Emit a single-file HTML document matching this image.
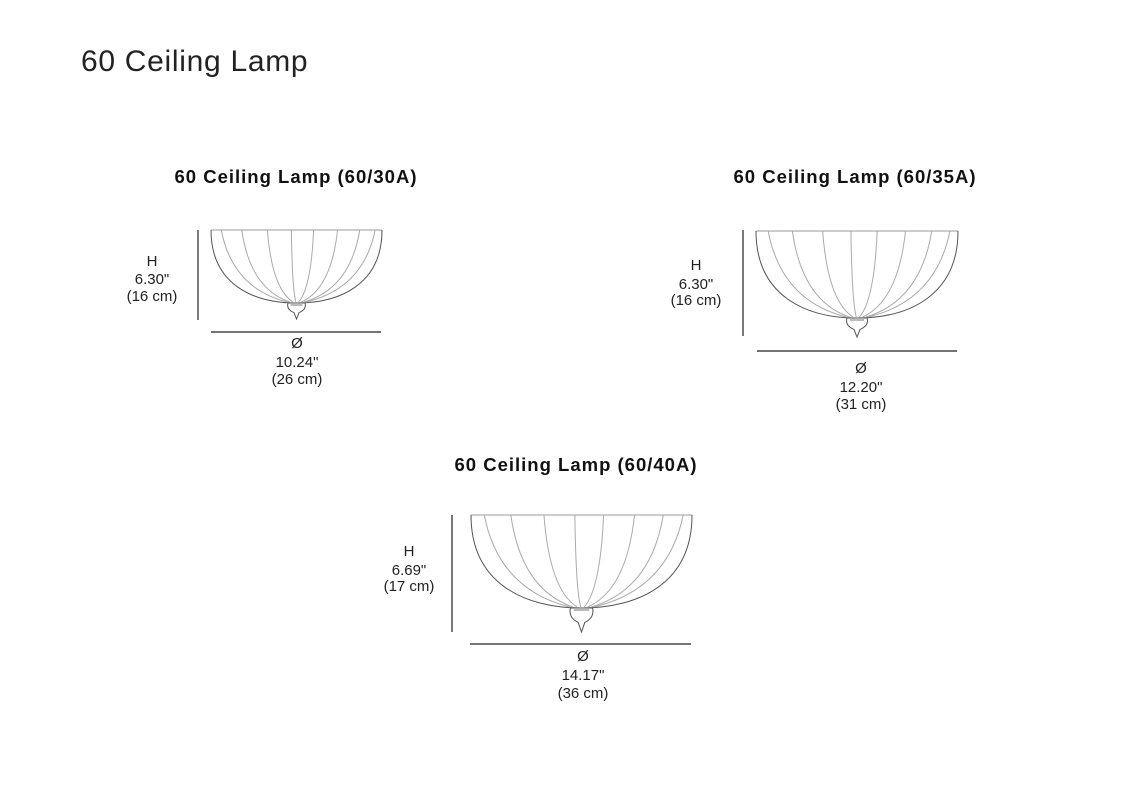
<!DOCTYPE html>
<html><head><meta charset="utf-8"><style>
html,body{margin:0;padding:0;background:#fff;}
body{width:1136px;height:800px;overflow:hidden;position:relative;}
svg{position:absolute;left:0;top:0;}
</style></head><body>
<svg id="s" width="1136" height="800" xmlns="http://www.w3.org/2000/svg" font-family="Liberation Sans, sans-serif">
<text x="81" y="71" font-size="30" letter-spacing="0.7" fill="#222">60 Ceiling Lamp</text>
<text x="296" y="183" font-size="18.5" font-weight="bold" letter-spacing="1" text-anchor="middle" fill="#111">60 Ceiling Lamp (60/30A)</text>
<text x="855" y="183" font-size="18.5" font-weight="bold" letter-spacing="1" text-anchor="middle" fill="#111">60 Ceiling Lamp (60/35A)</text>
<text x="576" y="471" font-size="18.5" font-weight="bold" letter-spacing="1" text-anchor="middle" fill="#111">60 Ceiling Lamp (60/40A)</text>
<g font-size="15" fill="#222" text-anchor="middle">
<text x="152" y="266">H</text><text x="152" y="284">6.30"</text><text x="152" y="301">(16 cm)</text>
<text x="297" y="348">Ø</text><text x="297" y="367">10.24"</text><text x="297" y="384">(26 cm)</text>
<text x="696" y="270">H</text><text x="696" y="289">6.30"</text><text x="696" y="305">(16 cm)</text>
<text x="861" y="373">Ø</text><text x="861" y="392">12.20"</text><text x="861" y="409">(31 cm)</text>
<text x="409" y="556">H</text><text x="409" y="575">6.69"</text><text x="409" y="591">(17 cm)</text>
<text x="583" y="661">Ø</text><text x="583" y="680">14.17"</text><text x="583" y="698">(36 cm)</text>
</g>
<g stroke="#222" stroke-width="1.2">
<line x1="198" y1="230" x2="198" y2="320"/><line x1="211" y1="332" x2="381" y2="332"/>
<line x1="743" y1="230" x2="743" y2="336"/><line x1="757" y1="351" x2="957" y2="351"/>
<line x1="452" y1="515" x2="452" y2="632"/><line x1="470" y1="644" x2="691" y2="644"/>
</g>
<g id="lamps"></g>
</svg>
<script>
function lamp(L,R,top,bot,fin){
  var cx=(L+R)/2,w=R-L,h=bot-top,g='';
  var rx=w/2;
  g+='<line x1="'+L+'" y1="'+top+'" x2="'+R+'" y2="'+top+'" stroke="#999" stroke-width="1"/>';
  g+='<path d="M'+L+' '+top+' C'+L+' '+(top+h*0.75)+' '+(cx-rx*0.5)+' '+bot+' '+cx+' '+bot+' C'+(cx+rx*0.5)+' '+bot+' '+R+' '+(top+h*0.75)+' '+R+' '+top+'" fill="none" stroke="#555" stroke-width="1"/>';
  var fr=[0.06,0.18,0.33,0.47,0.6,0.74,0.87,0.96];
  for(var i=0;i<fr.length;i++){
    var x=L+w*fr[i]; var ex=cx+(fr[i]-0.5)*w*0.12;
    g+='<path d="M'+x+' '+top+' Q'+(x+(cx-x)*0.15)+' '+(top+h*0.8)+' '+ex+' '+(bot-1)+'" fill="none" stroke="#aaa" stroke-width="1"/>';
  }
  var fw=w*0.05;
  g+='<path d="M'+(cx-fw)+' '+(bot)+' L'+(cx+fw)+' '+bot+' Q'+(cx+fw*1.2)+' '+(bot+(fin-bot)*0.4)+' '+(cx+fw*0.3)+' '+(bot+(fin-bot)*0.6)+' L'+cx+' '+fin+' L'+(cx-fw*0.3)+' '+(bot+(fin-bot)*0.6)+' Q'+(cx-fw*1.2)+' '+(bot+(fin-bot)*0.4)+' '+(cx-fw)+' '+bot+' Z" fill="#fff" stroke="#555" stroke-width="1"/>';
  g+='<line x1="'+(cx-fw*0.7)+'" y1="'+(bot+2)+'" x2="'+(cx+fw*0.7)+'" y2="'+(bot+2)+'" stroke="#777"/>';
  return g;
}
document.getElementById('lamps').innerHTML=lamp(211,382,230,303,319)+lamp(756,958,231,318,337)+lamp(471,692,515,608,632);
</script>
</body></html>
